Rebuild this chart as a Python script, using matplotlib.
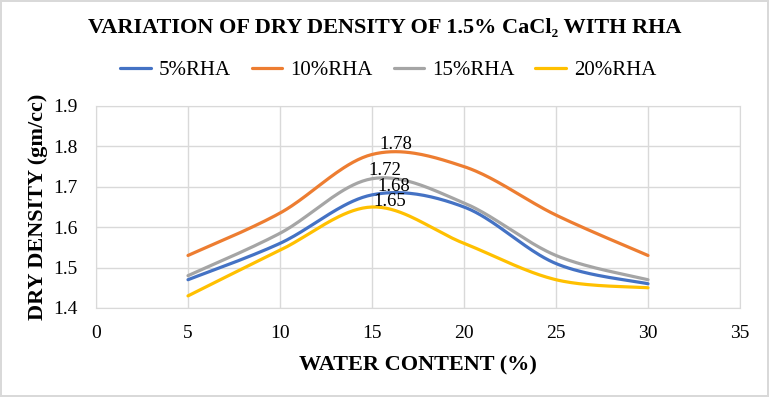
import numpy as np
import matplotlib
matplotlib.use("Agg")
import matplotlib.pyplot as plt

plt.rcParams['font.family'] = ['Liberation Serif', 'DejaVu Serif']

water = [5, 10, 15, 20, 25, 30]
rha5 = [1.47, 1.56, 1.68, 1.65, 1.51, 1.46]
rha10 = [1.53, 1.635, 1.78, 1.75, 1.63, 1.53]
rha15 = [1.48, 1.585, 1.72, 1.66, 1.53, 1.47]
rha20 = [1.43, 1.543, 1.65, 1.56, 1.47, 1.45]
labels = ['5%RHA', '10%RHA', '15%RHA', '20%RHA']
colors = ['#4472C4', '#ED7D31', '#A5A5A5', '#FFC000']
peak_labels = ['1.68', '1.78', '1.72', '1.65']
peak_offsets = [(22, 8), (24, 10), (13, 8), (18, 6)]


def smooth(xs, ys, n=40):
    xs = np.asarray(xs, float)
    ys = np.asarray(ys, float)
    P = np.column_stack([xs, ys])
    out = []
    for i in range(len(P) - 1):
        p0 = P[i - 1] if i > 0 else P[i]
        p1 = P[i]
        p2 = P[i + 1]
        p3 = P[i + 2] if i + 2 < len(P) else P[i + 1]
        c1 = p1 + (p2 - p0) / 6.0
        c2 = p2 - (p3 - p1) / 6.0
        t = np.linspace(0, 1, n)[:, None]
        seg = ((1 - t) ** 3) * p1 + 3 * ((1 - t) ** 2) * t * c1 + 3 * (1 - t) * t ** 2 * c2 + t ** 3 * p2
        out.append(seg if i == 0 else seg[1:])
    out = np.vstack(out)
    return out[:, 0], out[:, 1]


fig = plt.figure(figsize=(7.69, 3.97), dpi=100)
fig.patch.set_edgecolor('#d9d9d9')
fig.patch.set_linewidth(1.5)
ax = fig.add_axes([96 / 769, 1 - 308 / 397, (740 - 96) / 769, (308 - 106) / 397])

series = [rha5, rha10, rha15, rha20]
for ys, lab, col in zip(series, labels, colors):
    sx, sy = smooth(water, ys)
    ax.plot(sx, sy, color=col, lw=2.3, label=lab, solid_capstyle='round')

for ys, txt, off in zip(series, peak_labels, peak_offsets):
    i = int(np.argmax(ys))
    ax.annotate(txt, (water[i], ys[i]), xytext=off, textcoords='offset pixels',
                ha='center', va='center', fontsize=13.5, color='black')

ax.set_xlim(0, 35)
ax.set_ylim(1.4, 1.9)
ax.set_xticks(np.arange(0, 36, 5))
ax.set_yticks(np.arange(1.4, 1.91, 0.1))
ax.set_yticklabels([f'{v:.1f}' for v in np.arange(1.4, 1.91, 0.1)])
ax.grid(True, color='#d9d9d9', lw=1)
ax.set_axisbelow(True)
for s in ax.spines.values():
    s.set_color('#d9d9d9')
ax.tick_params(length=0, labelsize=14, pad=12)
ax.tick_params(axis='y', pad=13)

ax.set_xlabel('WATER CONTENT (%)', fontsize=16, fontweight='bold', labelpad=10)
ax.set_ylabel('DRY DENSITY (gm/cc)', fontsize=16, fontweight='bold', labelpad=4)

fig.text(0.5, 1 - 28 / 397, 'VARIATION OF DRY DENSITY OF 1.5% CaCl\u2082 WITH RHA',
         ha='center', va='center', fontsize=16, fontweight='bold')
fig.legend(loc='center', bbox_to_anchor=(0.505, 1 - 70 / 397), ncol=4, frameon=False,
           fontsize=15, handlelength=1.45, handletextpad=0.4, columnspacing=1.0)

fig.savefig('out.png', dpi=100)
